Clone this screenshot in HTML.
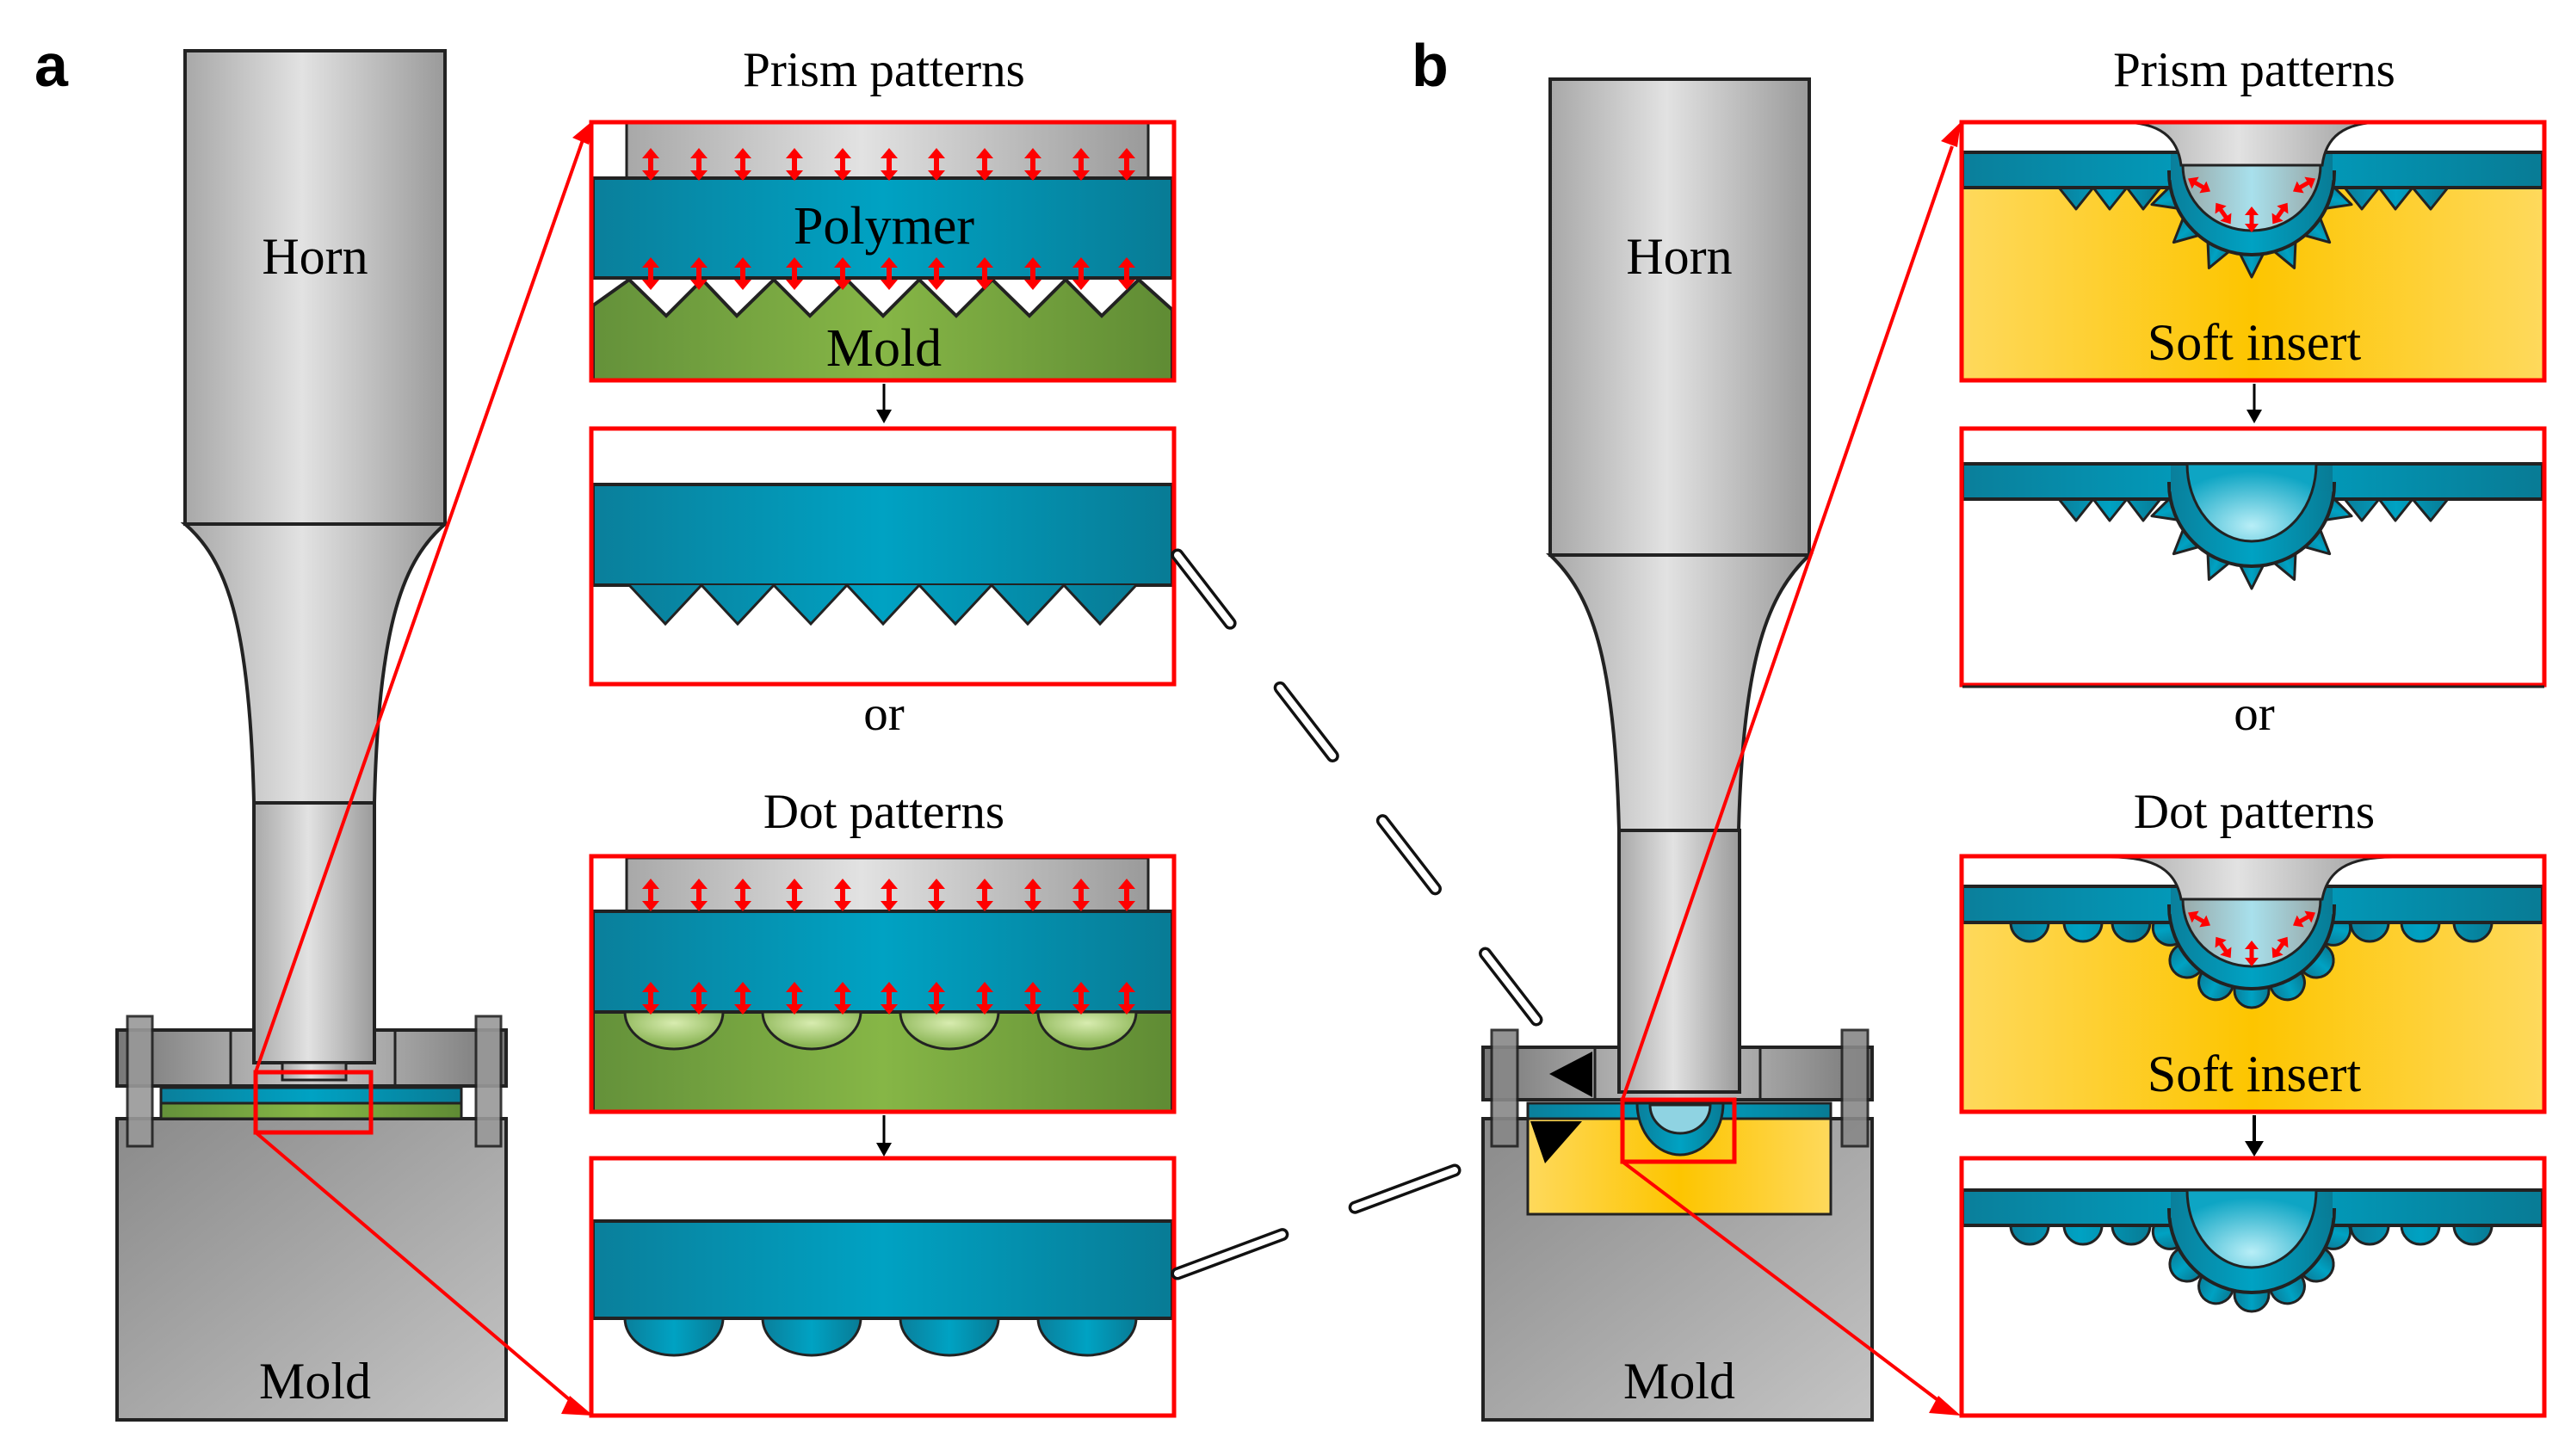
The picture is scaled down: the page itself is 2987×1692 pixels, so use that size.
<!DOCTYPE html>
<html><head><meta charset="utf-8"><style>html,body{margin:0;padding:0;background:#fff}svg{display:block}</style></head><body>
<svg width="2987" height="1692" viewBox="0 0 2987 1692" xmlns="http://www.w3.org/2000/svg" font-family="'Liberation Serif', serif">
<defs>
<linearGradient id="gh" x1="0" x2="1" y1="0" y2="0"><stop offset="0" stop-color="#a8a8a8"/><stop offset="0.45" stop-color="#e2e2e2"/><stop offset="1" stop-color="#9a9a9a"/></linearGradient>
<linearGradient id="gb" x1="0" x2="1"><stop offset="0" stop-color="#0a7f9b"/><stop offset="0.5" stop-color="#00a2c3"/><stop offset="1" stop-color="#087b95"/></linearGradient>
<linearGradient id="gg" x1="0" x2="1"><stop offset="0" stop-color="#64913a"/><stop offset="0.5" stop-color="#86b646"/><stop offset="1" stop-color="#5f8b34"/></linearGradient>
<linearGradient id="gy" x1="0" x2="1"><stop offset="0" stop-color="#fed95c"/><stop offset="0.5" stop-color="#fdc500"/><stop offset="1" stop-color="#fed95c"/></linearGradient>
<linearGradient id="gm" x1="0" y1="0" x2="1" y2="1"><stop offset="0" stop-color="#8a8a8a"/><stop offset="1" stop-color="#c4c4c4"/></linearGradient>
<linearGradient id="gp" x1="0" x2="1"><stop offset="0" stop-color="#777"/><stop offset="0.5" stop-color="#c8c8c8"/><stop offset="1" stop-color="#777"/></linearGradient>
<radialGradient id="gc" cx="0.5" cy="0.8" r="0.7"><stop offset="0" stop-color="#b8eef7"/><stop offset="1" stop-color="#0ea5c4"/></radialGradient>
<linearGradient id="gi" x1="0" x2="1"><stop offset="0" stop-color="#9aa"/><stop offset="0.5" stop-color="#a8e0ec"/><stop offset="1" stop-color="#9aa"/></linearGradient>
<radialGradient id="gd" cx="0.5" cy="0.3" r="0.6"><stop offset="0" stop-color="#d8ecb0"/><stop offset="1" stop-color="#8bb555"/></radialGradient>
<path id="da" d="M0,-19 L-10,-7 L-3,-7 L-3,7 L-10,7 L0,19 L10,7 L3,7 L3,-7 L10,-7Z" fill="#f00"/>
<path id="das" d="M0,-15 L-8,-5 L-2.5,-5 L-2.5,5 L-8,5 L0,15 L8,5 L2.5,5 L2.5,-5 L8,-5Z" fill="#f00"/>
<path id="tri" d="M-16,90 L0,122 L16,90Z" fill="url(#gb)" stroke="#222" stroke-width="3" stroke-linejoin="round"/>
<circle id="dot" cx="0" cy="98" r="20" fill="url(#gb)" stroke="#222" stroke-width="3"/>
<g id="tris">
<use href="#tri" transform="rotate(-72)"/><use href="#tri" transform="rotate(-48)"/><use href="#tri" transform="rotate(-24)"/><use href="#tri"/><use href="#tri" transform="rotate(24)"/><use href="#tri" transform="rotate(48)"/><use href="#tri" transform="rotate(72)"/>
</g>
<g id="dots">
<use href="#dot" transform="rotate(-75)"/><use href="#dot" transform="rotate(-50)"/><use href="#dot" transform="rotate(-25)"/><use href="#dot"/><use href="#dot" transform="rotate(25)"/><use href="#dot" transform="rotate(50)"/><use href="#dot" transform="rotate(75)"/>
</g>
</defs>

<text x="40" y="100" font-family="'Liberation Sans',sans-serif" font-weight="bold" font-size="70">a</text>
<text x="1640" y="100" font-family="'Liberation Sans',sans-serif" font-weight="bold" font-size="70">b</text>

<!-- ===== Panel a machine ===== -->
<rect x="136" y="1300" width="452" height="350" fill="url(#gm)" stroke="#222" stroke-width="4"/>
<rect x="136" y="1197" width="452" height="65" fill="url(#gp)" stroke="#222" stroke-width="4"/>
<line x1="268" y1="1197" x2="268" y2="1262" stroke="#222" stroke-width="3"/>
<line x1="459" y1="1197" x2="459" y2="1262" stroke="#222" stroke-width="3"/>
<rect x="148" y="1181" width="29" height="151" fill="#999" stroke="#222" stroke-width="3" opacity="0.9"/>
<rect x="553" y="1181" width="29" height="151" fill="#999" stroke="#222" stroke-width="3" opacity="0.9"/>
<rect x="187" y="1264" width="349" height="18" fill="url(#gb)" stroke="#222" stroke-width="3"/>
<rect x="187" y="1282" width="349" height="18" fill="url(#gg)" stroke="#222" stroke-width="3"/>
<rect x="215" y="59" width="302" height="550" fill="url(#gh)" stroke="#222" stroke-width="4"/>
<path d="M215,609 H517 C470,650 440,720 435,933 H295 C290,720 262,650 215,609Z" fill="url(#gh)" stroke="#222" stroke-width="4"/>
<rect x="295" y="933" width="140" height="302" fill="url(#gh)" stroke="#222" stroke-width="4"/>
<rect x="328" y="1235" width="74" height="20" fill="url(#gh)" stroke="#222" stroke-width="3"/>
<text x="366" y="318" font-size="60" text-anchor="middle">Horn</text>
<text x="366" y="1625" font-size="60" text-anchor="middle">Mold</text>
<rect x="297" y="1246" width="134" height="70" fill="none" stroke="#f00" stroke-width="5"/>
<line x1="297" y1="1246" x2="678" y2="160" stroke="#f00" stroke-width="4"/>
<polygon points="689,140 665,160 684,168" fill="#f00"/>
<line x1="297" y1="1316" x2="668" y2="1632" stroke="#f00" stroke-width="4"/>
<polygon points="689,1645 662,1622 652,1643" fill="#f00"/>

<!-- ===== Panel a boxes ===== -->
<text x="1027" y="100" font-size="57" text-anchor="middle">Prism patterns</text>
<rect x="728" y="142" width="606" height="65" fill="url(#gh)" stroke="#222" stroke-width="3"/>
<rect x="689" y="207" width="673" height="116" fill="url(#gb)" stroke="#222" stroke-width="4"/>
<path d="M689,355 L731,325 L774,367 L816,325 L856,367 L899,325 L941,367 L984,325 L1026,367 L1068,325 L1111,367 L1153,325 L1196,367 L1238,325 L1280,367 L1323,325 L1362,360 V442 H689Z" fill="url(#gg)" stroke="#222" stroke-width="4"/>
<text x="1027" y="283" font-size="62" text-anchor="middle">Polymer</text>
<text x="1027" y="425" font-size="62" text-anchor="middle">Mold</text>
<g>
<use href="#da" x="756" y="191"/><use href="#da" x="812" y="191"/><use href="#da" x="863" y="191"/><use href="#da" x="923" y="191"/><use href="#da" x="979" y="191"/><use href="#da" x="1033" y="191"/><use href="#da" x="1088" y="191"/><use href="#da" x="1144" y="191"/><use href="#da" x="1200" y="191"/><use href="#da" x="1256" y="191"/><use href="#da" x="1309" y="191"/>
<use href="#da" x="756" y="318"/><use href="#da" x="812" y="318"/><use href="#da" x="863" y="318"/><use href="#da" x="923" y="318"/><use href="#da" x="979" y="318"/><use href="#da" x="1033" y="318"/><use href="#da" x="1088" y="318"/><use href="#da" x="1144" y="318"/><use href="#da" x="1200" y="318"/><use href="#da" x="1256" y="318"/><use href="#da" x="1309" y="318"/>
</g>
<rect x="687" y="142" width="677" height="300" fill="none" stroke="#f00" stroke-width="5"/>
<line x1="1027" y1="446" x2="1027" y2="478" stroke="#000" stroke-width="3"/><polygon points="1018,476 1036,476 1027,492" fill="#000"/>

<rect x="689" y="563" width="673" height="117" fill="url(#gb)" stroke="#222" stroke-width="4"/>
<path d="M731,680 L773,725 L815,680 L857,725 L899,680 L942,725 L984,680 L1026,725 L1068,680 L1110,725 L1152,680 L1194,725 L1236,680 L1278,725 L1320,680" fill="url(#gb)" stroke="#222" stroke-width="3"/>
<rect x="687" y="498" width="677" height="297" fill="none" stroke="#f00" stroke-width="5"/>
<text x="1027" y="848" font-size="57" text-anchor="middle">or</text>
<text x="1027" y="962" font-size="57" text-anchor="middle">Dot patterns</text>

<rect x="728" y="997" width="606" height="62" fill="url(#gh)" stroke="#222" stroke-width="3"/>
<rect x="689" y="1059" width="673" height="117" fill="url(#gb)" stroke="#222" stroke-width="4"/>
<rect x="689" y="1176" width="673" height="116" fill="url(#gg)" stroke="#222" stroke-width="4"/>
<g fill="url(#gd)" stroke="#222" stroke-width="3">
<path d="M726,1176 A57,43 0 0 0 840,1176Z"/><path d="M886,1176 A57,43 0 0 0 1000,1176Z"/><path d="M1046,1176 A57,43 0 0 0 1160,1176Z"/><path d="M1206,1176 A57,43 0 0 0 1320,1176Z"/>
</g>
<g>
<use href="#da" x="756" y="1040"/><use href="#da" x="812" y="1040"/><use href="#da" x="863" y="1040"/><use href="#da" x="923" y="1040"/><use href="#da" x="979" y="1040"/><use href="#da" x="1033" y="1040"/><use href="#da" x="1088" y="1040"/><use href="#da" x="1144" y="1040"/><use href="#da" x="1200" y="1040"/><use href="#da" x="1256" y="1040"/><use href="#da" x="1309" y="1040"/>
<use href="#da" x="756" y="1160"/><use href="#da" x="812" y="1160"/><use href="#da" x="863" y="1160"/><use href="#da" x="923" y="1160"/><use href="#da" x="979" y="1160"/><use href="#da" x="1033" y="1160"/><use href="#da" x="1088" y="1160"/><use href="#da" x="1144" y="1160"/><use href="#da" x="1200" y="1160"/><use href="#da" x="1256" y="1160"/><use href="#da" x="1309" y="1160"/>
</g>
<rect x="687" y="995" width="677" height="297" fill="none" stroke="#f00" stroke-width="5"/>
<line x1="1027" y1="1296" x2="1027" y2="1330" stroke="#000" stroke-width="3"/><polygon points="1018,1328 1036,1328 1027,1344" fill="#000"/>

<rect x="689" y="1419" width="673" height="113" fill="url(#gb)" stroke="#222" stroke-width="4"/>
<g fill="url(#gb)" stroke="#222" stroke-width="3">
<path d="M726,1532 A57,43 0 0 0 840,1532Z"/><path d="M886,1532 A57,43 0 0 0 1000,1532Z"/><path d="M1046,1532 A57,43 0 0 0 1160,1532Z"/><path d="M1206,1532 A57,43 0 0 0 1320,1532Z"/>
</g>
<rect x="687" y="1346" width="677" height="299" fill="none" stroke="#f00" stroke-width="5"/>

<!-- dashed connectors -->
<g stroke-linecap="round">
<line x1="1368" y1="645" x2="1785" y2="1185" stroke="#111" stroke-width="15" stroke-dasharray="100 95"/>
<line x1="1368" y1="645" x2="1785" y2="1185" stroke="#fff" stroke-width="8" stroke-dasharray="100 95"/>
<line x1="1368" y1="1480" x2="1690" y2="1360" stroke="#111" stroke-width="15" stroke-dasharray="130 90"/>
<line x1="1368" y1="1480" x2="1690" y2="1360" stroke="#fff" stroke-width="8" stroke-dasharray="130 90"/>
</g>

<!-- ===== Panel b machine ===== -->
<rect x="1723" y="1300" width="452" height="350" fill="url(#gm)" stroke="#222" stroke-width="4"/>
<rect x="1775" y="1300" width="352" height="111" fill="url(#gy)" stroke="#222" stroke-width="3"/>
<rect x="1723" y="1217" width="452" height="61" fill="url(#gp)" stroke="#222" stroke-width="4"/>
<line x1="1853" y1="1217" x2="1853" y2="1278" stroke="#222" stroke-width="3"/>
<line x1="2045" y1="1217" x2="2045" y2="1278" stroke="#222" stroke-width="3"/>
<rect x="1733" y="1197" width="30" height="135" fill="#888" stroke="#222" stroke-width="3" opacity="0.9"/>
<rect x="2140" y="1197" width="30" height="135" fill="#888" stroke="#222" stroke-width="3" opacity="0.9"/>
<rect x="1775" y="1282" width="352" height="18" fill="url(#gb)" stroke="#222" stroke-width="3"/>
<path d="M1902,1282 A50,60 0 0 0 2002,1282Z" fill="url(#gb)" stroke="#222" stroke-width="3"/>
<path d="M1917,1284 A35,33 0 0 0 1987,1284Z" fill="#8fd3e2" stroke="#222" stroke-width="3"/>
<rect x="1801" y="92" width="301" height="553" fill="url(#gh)" stroke="#222" stroke-width="4"/>
<path d="M1801,645 H2102 C2055,690 2025,760 2020,965 H1881 C1876,760 1848,690 1801,645Z" fill="url(#gh)" stroke="#222" stroke-width="4"/>
<rect x="1881" y="965" width="140" height="304" fill="url(#gh)" stroke="#222" stroke-width="4"/>
<polygon points="1800,1248 1850,1222 1850,1275" fill="#000"/>
<polygon points="1778,1303 1838,1303 1795,1352" fill="#000"/>
<text x="1951" y="318" font-size="60" text-anchor="middle">Horn</text>
<text x="1951" y="1625" font-size="60" text-anchor="middle">Mold</text>
<rect x="1885" y="1278" width="130" height="72" fill="none" stroke="#f00" stroke-width="5"/>
<line x1="1885" y1="1278" x2="2268" y2="170" stroke="#f00" stroke-width="4"/>
<polygon points="2278,142 2255,164 2274,171" fill="#f00"/>
<line x1="1885" y1="1350" x2="2258" y2="1632" stroke="#f00" stroke-width="4"/>
<polygon points="2278,1645 2252,1622 2241,1642" fill="#f00"/>

<!-- ===== Panel b boxes ===== -->
<text x="2619" y="100" font-size="57" text-anchor="middle">Prism patterns</text>
<text x="2619" y="848" font-size="57" text-anchor="middle">or</text>
<text x="2619" y="962" font-size="57" text-anchor="middle">Dot patterns</text>

<!-- box1 y0=177 -->
<rect x="2280" y="218" width="674" height="224" fill="url(#gy)"/>
<g fill="url(#gb)" stroke="#222" stroke-width="3" stroke-linejoin="round">
<path d="M2392,218 L2412,243 L2432,218 L2451,243 L2471,218 L2490,243 L2510,218"/>
<path d="M2724,218 L2744,243 L2764,218 L2783,243 L2803,218 L2824,243 L2844,218"/>
</g>
<use href="#tris" transform="translate(2616,200)"/>
<rect x="2280" y="177" width="674" height="41" fill="url(#gb)" stroke="#222" stroke-width="4"/>
<path d="M2520,200 A96,96 0 0 0 2712,200 Z" fill="url(#gb)" stroke="#222" stroke-width="4"/>
<rect x="2522" y="179" width="188" height="30" fill="url(#gb)"/>
<path d="M2536,192 A80,76 0 0 0 2696,192 Z" fill="url(#gi)" stroke="#222" stroke-width="3"/>
<path d="M2464,142 C2510,142 2530,160 2534,192 L2698,192 C2702,160 2722,142 2768,142 Z" fill="url(#gh)" stroke="#222" stroke-width="3"/>
<g>
<use href="#das" transform="translate(2555,215) rotate(-60)"/>
<use href="#das" transform="translate(2677,215) rotate(60)"/>
<use href="#das" transform="translate(2583,248) rotate(-35)"/>
<use href="#das" transform="translate(2649,248) rotate(35)"/>
<use href="#das" transform="translate(2616,255)"/>
</g>
<text x="2619" y="418" font-size="60" text-anchor="middle">Soft insert</text>
<rect x="2279" y="142" width="677" height="300" fill="none" stroke="#f00" stroke-width="5"/>
<line x1="2619" y1="446" x2="2619" y2="478" stroke="#000" stroke-width="3"/><polygon points="2610,476 2628,476 2619,492" fill="#000"/>

<!-- box2 y0=539 -->
<g fill="url(#gb)" stroke="#222" stroke-width="3" stroke-linejoin="round">
<path d="M2392,580 L2412,605 L2432,580 L2451,605 L2471,580 L2490,605 L2510,580"/>
<path d="M2724,580 L2744,605 L2764,580 L2783,605 L2803,580 L2824,605 L2844,580"/>
</g>
<use href="#tris" transform="translate(2616,562)"/>
<rect x="2280" y="539" width="674" height="41" fill="url(#gb)" stroke="#222" stroke-width="4"/>
<path d="M2520,562 A96,96 0 0 0 2712,562 Z" fill="url(#gb)" stroke="#222" stroke-width="4"/>
<rect x="2522" y="541" width="188" height="30" fill="url(#gb)"/>
<path d="M2541,539 A75,90 0 0 0 2691,539 Z" fill="url(#gc)" stroke="#222" stroke-width="3"/>
<rect x="2279" y="498" width="677" height="298" fill="none" stroke="#f00" stroke-width="5"/>
<line x1="2280" y1="798" x2="2956" y2="798" stroke="#222" stroke-width="3"/>

<!-- box3 y0=1030 -->
<rect x="2280" y="1072" width="674" height="220" fill="url(#gy)"/>
<g fill="url(#gb)" stroke="#222" stroke-width="3">
<path d="M2336,1072 A22,22 0 0 0 2380,1072Z M2398,1072 A22,22 0 0 0 2442,1072Z M2454,1072 A22,22 0 0 0 2498,1072Z"/>
<path d="M2731,1072 A22,22 0 0 0 2775,1072Z M2790,1072 A22,22 0 0 0 2834,1072Z M2851,1072 A22,22 0 0 0 2895,1072Z"/>
</g>
<use href="#dots" transform="translate(2616,1053)"/>
<rect x="2280" y="1030" width="674" height="42" fill="url(#gb)" stroke="#222" stroke-width="4"/>
<path d="M2520,1053 A96,96 0 0 0 2712,1053 Z" fill="url(#gb)" stroke="#222" stroke-width="4"/>
<rect x="2522" y="1032" width="188" height="30" fill="url(#gb)"/>
<path d="M2536,1045 A80,78 0 0 0 2696,1045 Z" fill="url(#gi)" stroke="#222" stroke-width="3"/>
<path d="M2452,996 C2505,996 2528,1012 2534,1045 L2698,1045 C2704,1012 2727,996 2780,996 Z" fill="url(#gh)" stroke="#222" stroke-width="3"/>
<g>
<use href="#das" transform="translate(2555,1068) rotate(-60)"/>
<use href="#das" transform="translate(2677,1068) rotate(60)"/>
<use href="#das" transform="translate(2583,1101) rotate(-35)"/>
<use href="#das" transform="translate(2649,1101) rotate(35)"/>
<use href="#das" transform="translate(2616,1108)"/>
</g>
<text x="2619" y="1268" font-size="60" text-anchor="middle">Soft insert</text>
<rect x="2279" y="995" width="677" height="297" fill="none" stroke="#f00" stroke-width="5"/>
<line x1="2619" y1="1296" x2="2619" y2="1330" stroke="#000" stroke-width="4"/><polygon points="2608,1326 2630,1326 2619,1344" fill="#000"/>

<!-- box4 y0=1383 -->
<g fill="url(#gb)" stroke="#222" stroke-width="3">
<path d="M2336,1424 A22,22 0 0 0 2380,1424Z M2398,1424 A22,22 0 0 0 2442,1424Z M2454,1424 A22,22 0 0 0 2498,1424Z"/>
<path d="M2731,1424 A22,22 0 0 0 2775,1424Z M2790,1424 A22,22 0 0 0 2834,1424Z M2851,1424 A22,22 0 0 0 2895,1424Z"/>
</g>
<use href="#dots" transform="translate(2616,1406)"/>
<rect x="2280" y="1383" width="674" height="41" fill="url(#gb)" stroke="#222" stroke-width="4"/>
<path d="M2520,1406 A96,96 0 0 0 2712,1406 Z" fill="url(#gb)" stroke="#222" stroke-width="4"/>
<rect x="2522" y="1385" width="188" height="30" fill="url(#gb)"/>
<path d="M2541,1383 A75,90 0 0 0 2691,1383 Z" fill="url(#gc)" stroke="#222" stroke-width="3"/>
<rect x="2279" y="1346" width="677" height="299" fill="none" stroke="#f00" stroke-width="5"/>
</svg>
</body></html>
